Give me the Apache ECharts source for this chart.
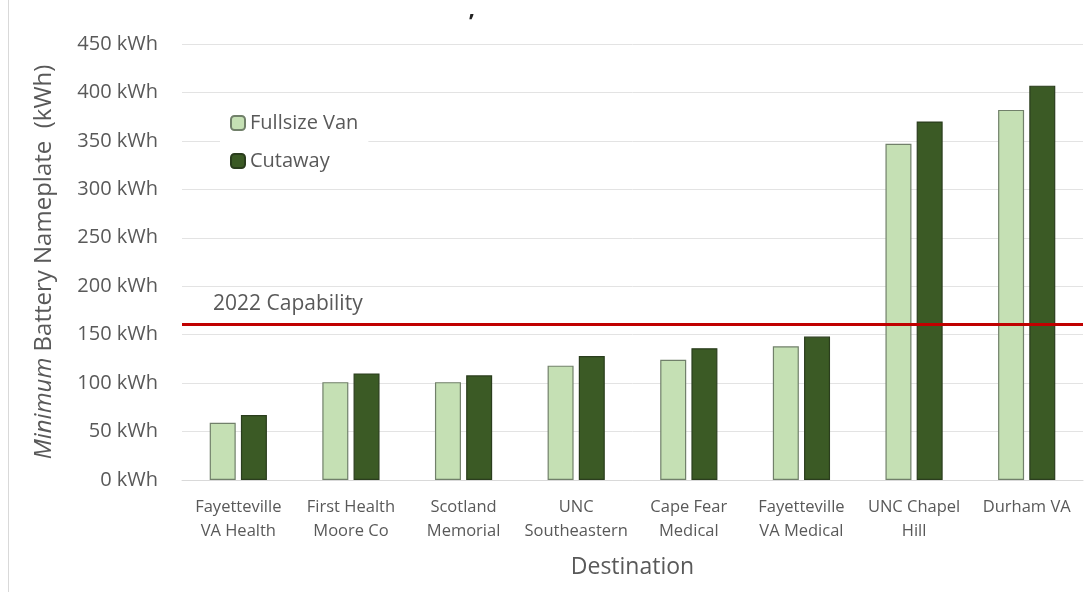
<!DOCTYPE html>
<html>
<head>
<meta charset="utf-8">
<script src="https://cdn.jsdelivr.net/npm/echarts@6/dist/echarts.min.js"></script>
<style>
  html, body { margin: 0; padding: 0; background: #fff; }
  #chart { width: 1091px; height: 598px; }
</style>
</head>
<body>
<div id="chart"></div>
<script>
// Destinations along the x axis
const destinations = [
  'Fayetteville\nVA Health',
  'First Health\nMoore Co',
  'Scotland\nMemorial',
  'UNC\nSoutheastern',
  'Cape Fear\nMedical',
  'Fayetteville\nVA Medical',
  'UNC Chapel\nHill',
  'Durham VA'
];

// Minimum battery nameplate (kWh) per vehicle type
const fullsizeVan = [59, 101, 101, 118, 124, 138, 347, 382];
const cutaway = [67, 110, 108, 128, 136, 148, 370, 407];

// Present-day battery capability threshold (kWh)
const capability2022 = 161;

// Value axis ticks
const yTicks = [0, 50, 100, 150, 200, 250, 300, 350, 400, 450];

const textColor = '#595959';
const font = 'Open Sans';

const chart = echarts.init(document.getElementById('chart'));

chart.setOption({
  animation: false,
  backgroundColor: '#fff',
  textStyle: { fontFamily: font },
  title: {
    text: '\u2019',
    left: 464,
    top: 7,
    textStyle: { fontFamily: font, fontSize: 22, fontWeight: 'bold', color: '#222' }
  },
  graphic: [
    {
      type: 'line',
      shape: { x1: 8.5, y1: 0, x2: 8.5, y2: 592 },
      style: { stroke: '#d9d9d9', lineWidth: 1 }
    }
  ],
  legend: {
    orient: 'vertical',
    left: 220,
    top: 107,
    itemWidth: 14,
    itemHeight: 14,
    itemGap: 18,
    backgroundColor: '#fff',
    padding: [6, 10],
    textStyle: { fontFamily: font, fontSize: 20, color: textColor },
    data: ['Fullsize Van', 'Cutaway']
  },
  grid: { left: 182, right: 8, top: 44, bottom: 118 },
  xAxis: {
    type: 'category',
    data: destinations,
    name: 'Destination',
    nameLocation: 'middle',
    nameGap: 76,
    nameTextStyle: { fontFamily: font, fontSize: 23, color: textColor },
    axisTick: { show: false },
    axisLine: { lineStyle: { color: '#d9d9d9' } },
    axisLabel: {
      fontFamily: font,
      fontSize: 16.5,
      color: textColor,
      lineHeight: 24,
      margin: 15,
      interval: 0
    }
  },
  yAxis: {
    type: 'value',
    min: yTicks[0],
    max: yTicks[yTicks.length - 1],
    interval: yTicks[1] - yTicks[0],
    name: '{i|Minimum} Battery Nameplate  (kWh)',
    nameLocation: 'middle',
    nameGap: 126,
    nameTextStyle: {
      fontFamily: font,
      fontSize: 24,
      color: textColor,
      rich: {
        i: { fontFamily: font, fontSize: 24, fontStyle: 'italic', color: textColor }
      }
    },
    axisLine: { show: false },
    axisTick: { show: false },
    splitLine: { lineStyle: { color: '#e3e3e3', width: 1 } },
    axisLabel: {
      fontFamily: font,
      fontSize: 20,
      color: textColor,
      margin: 24,
      formatter: '{value} kWh'
    }
  },
  series: [
    {
      name: 'Fullsize Van',
      type: 'bar',
      data: fullsizeVan,
      barWidth: 26,
      barGap: '20%',
      itemStyle: { color: '#c5e0b4', borderColor: '#71806a', borderWidth: 1.2 },
      markLine: {
        symbol: 'none',
        silent: true,
        data: [{ yAxis: capability2022 }],
        lineStyle: { color: '#c00000', width: 3, type: 'solid' },
        label: {
          show: true,
          position: 'insideStartTop',
          formatter: '2022 Capability',
          fontFamily: font,
          fontSize: 21,
          color: textColor,
          distance: [31, 9]
        },
        z: 10
      }
    },
    {
      name: 'Cutaway',
      type: 'bar',
      data: cutaway,
      barWidth: 26,
      itemStyle: { color: '#3b5a25', borderColor: '#2a3d1d', borderWidth: 1.2 }
    }
  ]
});
</script>
</body>
</html>
